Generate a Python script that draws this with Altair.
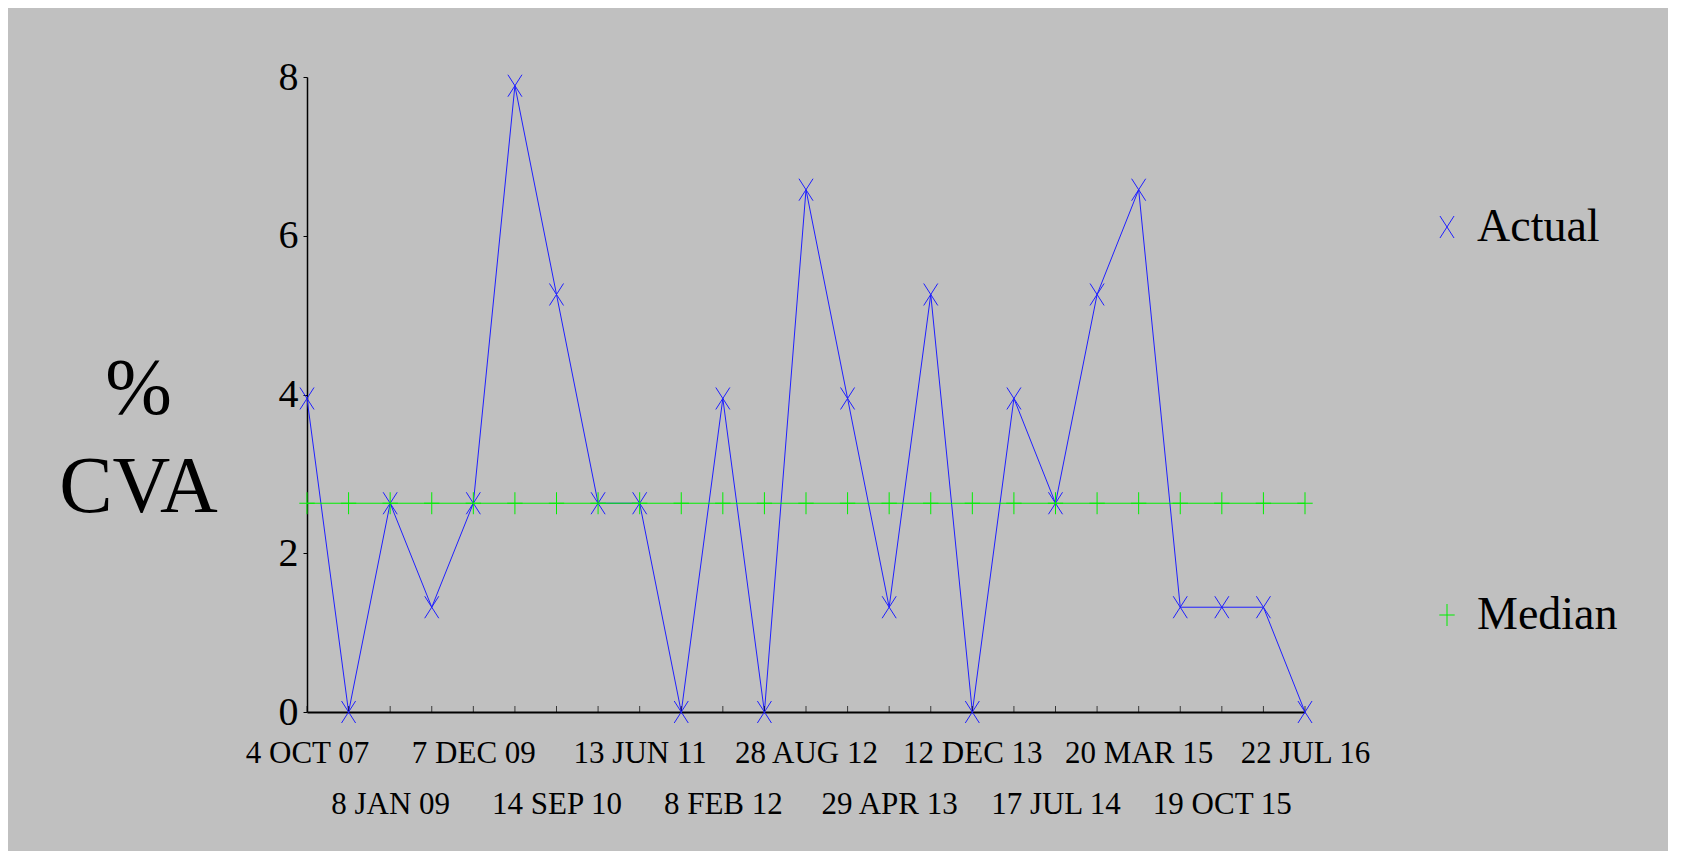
import json
import altair as alt
import pandas as pd

FONT = "Liberation Serif"

# ---- data ----
idx = list(range(25))
actual = [3.95, 0, 2.63, 1.32, 2.63, 7.89, 5.26, 2.63, 2.63, 0, 3.95, 0, 6.58,
          3.95, 1.32, 5.26, 0, 3.95, 2.63, 5.26, 6.58, 1.32, 1.32, 1.32, 0]
median_value = 2.63
date_labels = ["4 OCT 07", "8 JAN 09", "7 DEC 09", "14 SEP 10", "13 JUN 11",
               "8 FEB 12", "28 AUG 12", "29 APR 13", "12 DEC 13", "17 JUL 14",
               "20 MAR 15", "19 OCT 15", "22 JUL 16"]
y_ticks = [0, 2, 4, 6, 8]
series_names = ["Actual", "Median"]
series_colors = ["#1f1fff", "#00ee00"]

X_PATH = "M-0.64,-1L0.64,1M-0.64,1L0.64,-1"
PLUS_PATH = "M-0.7,0L0.7,0M0,-1L0,1"

rows = [{"idx": i, "value": v, "series": "Actual"} for i, v in zip(idx, actual)]
rows += [{"idx": i, "value": median_value, "series": "Median"} for i in idx]
df = pd.DataFrame(rows)
df_actual = df[df.series == "Actual"]

label_expr = ("datum.value % 2 == 0 ? " + json.dumps(date_labels)
              + "[datum.value / 2] : ''")

x_enc = alt.X(
    "idx:Q",
    scale=alt.Scale(domain=[0, 24], nice=False, zero=False),
    axis=alt.Axis(
        values=list(range(0, 25, 2)), labelExpr=label_expr, title=None,
        ticks=False, grid=False, domainColor="black", domainWidth=2,
        labelFont=FONT, labelFontSize=31, labelColor="black",
        labelAlign="center", labelBaseline="top", labelOverlap=False,
        labelFlush=False,
        labelPadding={"condition": {"test": "datum.value % 4 == 0", "value": 26},
                      "value": 77},
    ),
)

y_enc = alt.Y(
    "value:Q",
    scale=alt.Scale(domain=[0, 8], nice=False),
    axis=alt.Axis(
        values=y_ticks, format="d", title=["%", "CVA"], titleAngle=0,
        titleFont=FONT, titleFontSize=80, titleFontWeight="normal",
        titleColor="black", titleAlign="center", titleBaseline="alphabetic",
        titleX=-169, titleY=336, titleLineHeight=98, grid=False,
        domainColor="black", domainWidth=1.5, tickColor="black", tickSize=4,
        labelPadding=5, labelFont=FONT, labelFontSize=40, labelColor="black",
    ),
)

color_scale = alt.Scale(domain=series_names, range=series_colors)
shape_scale = alt.Scale(domain=series_names, range=[X_PATH, PLUS_PATH])
legend = alt.Legend(
    title=None, orient="none", legendX=1117, legendY=127, direction="vertical",
    rowPadding=342, labelFont=FONT, labelFontSize=46, labelColor="black",
    labelOffset=7, symbolSize=484, symbolStrokeWidth=1, padding=0,
)

lines = alt.Chart(df).mark_line(strokeWidth=1).encode(
    x=x_enc, y=y_enc,
    color=alt.Color("series:N", scale=color_scale, legend=legend),
)

ticks = alt.Chart(df_actual).mark_tick(
    orient="vertical", size=6, thickness=1, color="black", yOffset=-3
).encode(x=alt.X("idx:Q"), y=alt.datum(0))

points = alt.Chart(df).mark_point(filled=False, size=484, strokeWidth=1, opacity=1).encode(
    x=x_enc, y=y_enc,
    color=alt.Color("series:N", scale=color_scale, legend=legend),
    shape=alt.Shape("series:N", scale=shape_scale, legend=legend),
)

chart = alt.layer(lines, ticks, points).properties(
    width=998, height=635, background="#c0c0c0",
    padding={"left": 299, "top": 69, "right": 363, "bottom": 139},
    autosize=alt.AutoSizeParams(type="none"),
).configure_view(stroke=None)

chart.save("out.html", embed_options={"renderer": "svg", "actions": False})
